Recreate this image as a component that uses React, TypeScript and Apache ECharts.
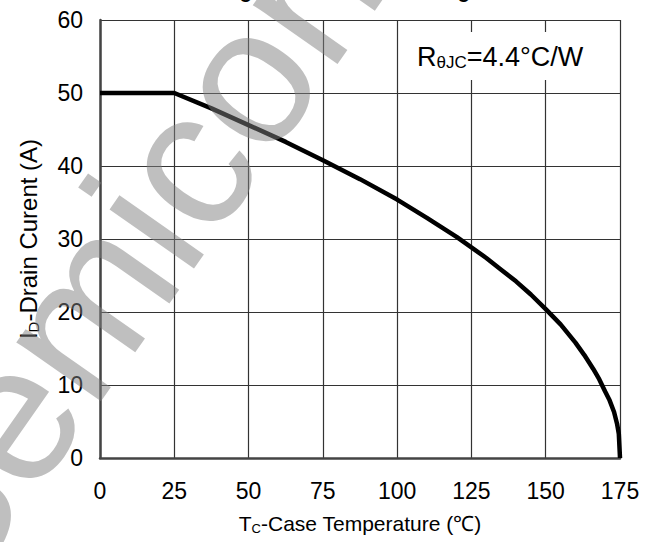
import React, { useEffect, useRef } from "react";
import * as echarts from "echarts";

const temperature = [0, 25, 37.5, 50, 62.5, 75, 87.5, 100, 110, 120, 130, 135, 140, 145, 150, 155, 160, 163, 166, 168, 170, 171.5, 173, 174, 174.6, 175];
const drainCurrent = [50, 50, 47.9, 45.6, 43.3, 40.8, 38.2, 35.4, 32.9, 30.3, 27.4, 25.8, 24.2, 22.4, 20.4, 18.3, 15.8, 14.1, 12.2, 10.8, 9.1, 7.9, 6.3, 4.7, 3.3, 0];
const xTicks = { min: 0, max: 175, interval: 25 };
const yTicks = { min: 0, max: 60, interval: 10 };
const titleText = "Figure 9. Current Derating";
const watermarkText = "Semiconductor";

export default function App() {
  const ref = useRef<HTMLDivElement>(null);
  useEffect(() => {
    if (!ref.current) return;
    const chart = echarts.init(ref.current, null, { renderer: "svg" });
    const font = "Arial, 'Liberation Sans', Helvetica, sans-serif";
    chart.setOption({
      animation: false,
      backgroundColor: "#fff",
      grid: { left: 100, width: 520, top: 20, height: 438, show: false },
      xAxis: {
        type: "value",
        min: xTicks.min,
        max: xTicks.max,
        interval: xTicks.interval,
        axisLine: { show: true, lineStyle: { color: "#444", width: 2.5 } },
        axisTick: { show: false },
        splitLine: { show: true, lineStyle: { color: "#333", width: 1.2 } },
        axisLabel: { color: "#000", fontSize: 23, fontFamily: font, margin: 21 },
        name: "{a|T}{s|C}{a|-Case Temperature (℃)}",
        nameLocation: "middle",
        nameGap: 52,
        nameTextStyle: {
          rich: {
            a: { fontSize: 21, fontFamily: font, color: "#000", lineHeight: 26 },
            s: { fontSize: 13, fontFamily: font, color: "#000", lineHeight: 26, padding: [10, 0, 0, 0] },
          },
        },
      },
      yAxis: {
        type: "value",
        min: yTicks.min,
        max: yTicks.max,
        interval: yTicks.interval,
        axisLine: { show: true, lineStyle: { color: "#444", width: 2.5 } },
        axisTick: { show: false },
        splitLine: { show: true, lineStyle: { color: "#333", width: 1.2 } },
        axisLabel: { color: "#000", fontSize: 23, fontFamily: font, margin: 17 },
        name: "{a|I}{s|D}{a|-Drain Curent (A)}",
        nameLocation: "middle",
        nameGap: 58,
        nameRotate: 90,
        nameTextStyle: {
          rich: {
            a: { fontSize: 24, fontFamily: font, color: "#000", lineHeight: 28 },
            s: { fontSize: 15, fontFamily: font, color: "#000", lineHeight: 28, padding: [11, 0, 0, 0] },
          },
        },
      },
      series: [
        {
          type: "line",
          data: temperature.map((t, i) => [t, drainCurrent[i]]),
          showSymbol: false,
          lineStyle: { color: "#000", width: 4.5 },
          z: 5,
        },
      ],
      graphic: [
        {
          type: "rect",
          z: 50,
          shape: { x: 402, y: 32, width: 216, height: 48 },
          style: { fill: "#fff" },
        },
        {
          type: "text",
          z: 51,
          x: 417,
          y: 57,
          style: {
            text: "{a|R}{s|θJC}{a|=4.4°C/W}",
            verticalAlign: "middle",
            rich: {
              a: { fontSize: 27, fontFamily: font, fill: "#000", lineHeight: 30 },
              s: { fontSize: 17, fontFamily: font, fill: "#000", lineHeight: 30, padding: [11, 0, 0, 0] },
            },
          },
        },
        {
          type: "text",
          z: 60,
          x: 346,
          y: 1,
          style: {
            text: titleText,
            fontSize: 20,
            fontWeight: "bold",
            fontFamily: font,
            fill: "#000",
            align: "center",
            verticalAlign: "bottom",
          },
        },
        {
          type: "text",
          z: 100,
          x: 274,
          y: 36,
          rotation: 0.96,
          style: {
            text: watermarkText,
            fontSize: 195,
            fontFamily: font,
            fill: "rgba(128,128,128,0.5)",
            align: "center",
            verticalAlign: "middle",
          },
        },
      ],
    });
    return () => chart.dispose();
  }, []);
  return (
    <div
      ref={ref}
      style={{ position: "fixed", left: 0, top: 0, width: 663, height: 542 }}
    />
  );
}
